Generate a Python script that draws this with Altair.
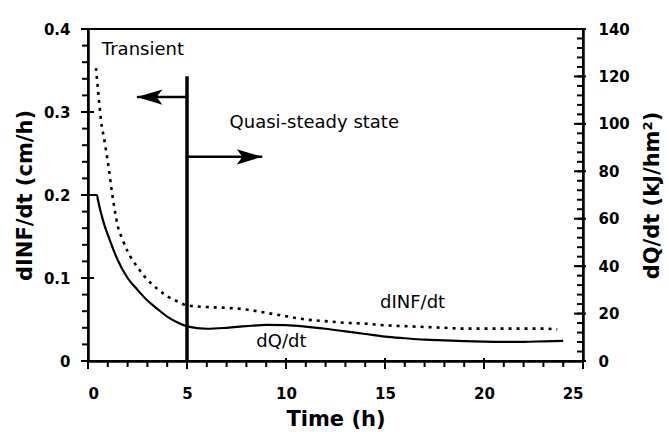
import altair as alt
import pandas as pd

# Infiltration rate dINF/dt (cm/h), dotted curve on the left axis
inf_time = [0.4, 0.5, 0.6, 0.7, 0.8, 0.9, 1.05, 1.2, 1.35, 1.5, 1.75, 2.0, 2.5, 3.0,
            3.5, 4.0, 4.5, 5.0, 6.0, 7.0, 8.0, 9.0, 10.0, 11.0, 12.0, 13.0, 14.0,
            15.0, 16.0, 17.0, 18.0, 19.0, 20.0, 21.0, 22.0, 23.0, 23.7]
inf_rate = [0.353, 0.328, 0.303, 0.282, 0.270, 0.255, 0.232, 0.205, 0.182, 0.163,
            0.146, 0.132, 0.113, 0.098, 0.087, 0.078, 0.072, 0.067, 0.065, 0.064,
            0.062, 0.058, 0.054, 0.050, 0.048, 0.046, 0.045, 0.043, 0.042, 0.041,
            0.040, 0.039, 0.039, 0.039, 0.039, 0.039, 0.038]

# Heat flux dQ/dt (kJ/hm2), solid curve on the right axis
dq_time = [0.25, 0.45, 0.5, 0.75, 1.1, 1.5, 2.0, 2.5, 3.0, 3.5, 4.0, 4.5, 5.0, 6.0,
           7.0, 8.0, 9.0, 10.0, 11.0, 12.0, 13.0, 14.0, 15.0, 16.0, 17.0, 18.0,
           19.0, 20.0, 21.0, 22.0, 23.0, 24.0]
dq_rate = [70, 70, 68, 59.5, 51, 42.6, 35, 30, 25.5, 22, 18.7, 16.3, 14.6, 13.6,
           14, 14.7, 15.2, 15.1, 14.5, 13.6, 12.5, 11.4, 10.3, 9.6, 9.0, 8.7,
           8.4, 8.2, 8.1, 8.1, 8.3, 8.5]

# Divider between the two regimes and the arrows pointing away from it
divider_time = [5.0]
divider_top = [0.343]
arrow_level = [0.318, 0.246]
arrow_from = [5.0, 5.0]
arrow_to = [2.47, 8.8]

# Annotations (time, dINF/dt level, text)
note_time = [0.7, 7.15, 14.75, 8.5]
note_level = [0.375, 0.287, 0.070, 0.023]
note_text = ["Transient", "Quasi-steady state", "dINF/dt", "dQ/dt"]

# Axis tick values: labelled (major) and unlabelled (minor)
time_major = [0, 5, 10, 15, 20, 25]
time_minor = [i for i in range(26)]
left_major = [0, 0.1, 0.2, 0.3, 0.4]
left_minor = [round(i * 0.02, 2) for i in range(21)]
right_major = [0, 20, 40, 60, 80, 100, 120, 140]
right_minor = [i * 4 for i in range(36)]

W, H = 495, 332
X_MAX, LEFT_MAX, RIGHT_MAX = 25.0, 0.4, 140.0
FONT = "DejaVu Sans"
INK = "black"

# Pixel lengths of the tick marks, turned into data units of each scale
px_x = X_MAX / W
px_left = LEFT_MAX / H

common_axis = dict(
    ticks=False, tickSize=0, grid=False,
    domainColor=INK, domainWidth=2.5,
    labelFont=FONT, labelFontSize=15, labelFontWeight="bold", labelColor=INK,
    titleFont=FONT, titleFontSize=21, titleFontWeight="bold", titleColor=INK,
)

x_scale = alt.Scale(domain=[0, X_MAX], nice=False)
left_scale = alt.Scale(domain=[0, LEFT_MAX], nice=False)
right_scale = alt.Scale(domain=[0, RIGHT_MAX], nice=False)

x_axis = alt.Axis(values=time_major, title="Time (h)", labelPadding=25,
                  titlePadding=7, **common_axis)
left_axis = alt.Axis(
    orient="left", values=left_major,
    labelExpr="datum.value == 0 ? '0' : format(datum.value, '.1f')",
    title="dINF/dt (cm/h)", labelPadding=18, titlePadding=8, **common_axis,
)
right_axis = alt.Axis(
    orient="right", values=right_major,
    title="dQ/dt (kJ/hm²)", titleAngle=270,
    labelPadding=15, titlePadding=33, **common_axis,
)


def xq(field="t"):
    return alt.X(f"{field}:Q", scale=x_scale, axis=x_axis)


def yl(field, axis=None):
    return alt.Y(f"{field}:Q", scale=left_scale, axis=axis)


def yr(field, axis=None):
    return alt.Y(f"{field}:Q", scale=right_scale, axis=axis)


inf_df = pd.DataFrame({"t": inf_time, "v": inf_rate})
dq_df = pd.DataFrame({"t": dq_time, "q": dq_rate})
div_df = pd.DataFrame({"t": divider_time, "v": [0.0], "v2": divider_top})
arrow_df = pd.DataFrame({"t": arrow_from, "t2": arrow_to, "v": arrow_level,
                         "side": ["left", "right"]})
note_df = pd.DataFrame({"t": note_time, "v": note_level, "label": note_text})

inf_line = alt.Chart(inf_df).mark_line(
    color=INK, strokeWidth=2.6, strokeDash=[3, 5], interpolate="monotone"
).encode(x=xq("t"), y=yl("v", left_axis))

dq_line = alt.Chart(dq_df).mark_line(
    color=INK, strokeWidth=2.2, interpolate="monotone"
).encode(x=xq("t"), y=yr("q", right_axis))

divider = alt.Chart(div_df).mark_rule(color=INK, strokeWidth=3.5).encode(
    x=xq("t"), y=yl("v"), y2="v2:Q"
)

arrow_shafts = alt.Chart(arrow_df).mark_rule(color=INK, strokeWidth=2.6).encode(
    x=xq("t"), x2="t2:Q", y=yl("v")
)

head_left = alt.Chart(arrow_df).transform_filter("datum.side == 'left'").mark_point(
    shape="M0,0L2,-0.6L1.55,0L2,0.6Z", filled=True, color=INK, opacity=1, size=650
).encode(x=xq("t2"), y=yl("v"))

head_right = alt.Chart(arrow_df).transform_filter("datum.side == 'right'").mark_point(
    shape="M0,0L-2,-0.6L-1.55,0L-2,0.6Z", filled=True, color=INK, opacity=1, size=650
).encode(x=xq("t2"), y=yl("v"))

notes = alt.Chart(note_df).mark_text(
    align="left", baseline="middle", font=FONT, fontSize=18, color=INK
).encode(x=xq("t"), y=yl("v"), text="label:N")


# Tick marks drawn as short rules: minor ticks point outward (inward on the
# right axis), major ticks cross the axis line
def x_ticks(values, below_px, above_px):
    df = pd.DataFrame({"t": values})
    df["lo"] = -below_px * px_left
    df["hi"] = above_px * px_left
    return alt.Chart(df).mark_rule(color=INK, strokeWidth=2).encode(
        x=xq("t"), y=yl("lo"), y2="hi:Q"
    )


def y_ticks(values, y_fn, edge, out_px, in_px):
    df = pd.DataFrame({"v": values})
    df["a"] = edge - out_px * px_x
    df["b"] = edge + in_px * px_x
    return alt.Chart(df).mark_rule(color=INK, strokeWidth=2).encode(
        y=y_fn("v"), x=xq("a"), x2="b:Q"
    )


tick_layers = [
    x_ticks(time_minor, 6, 0),
    x_ticks(time_major, 8, 3),
    y_ticks(left_minor, yl, 0.0, 6, 0),
    y_ticks(left_major, yl, 0.0, 7, 6),
    y_ticks(right_minor, yr, X_MAX, 0, -6),
    y_ticks(right_major, yr, X_MAX, -3, -9),
]

chart = alt.layer(
    inf_line, dq_line, divider, arrow_shafts, head_left, head_right, notes,
    *tick_layers,
).resolve_scale(y="independent").properties(
    width=W,
    height=H,
    autosize=alt.AutoSizeParams(type="none"),
    padding={"left": 88, "top": 29, "right": 86, "bottom": 71},
    background="white",
).configure_view(stroke=INK, strokeWidth=2)

chart.save("out.html", embed_options={"renderer": "svg", "actions": False})
